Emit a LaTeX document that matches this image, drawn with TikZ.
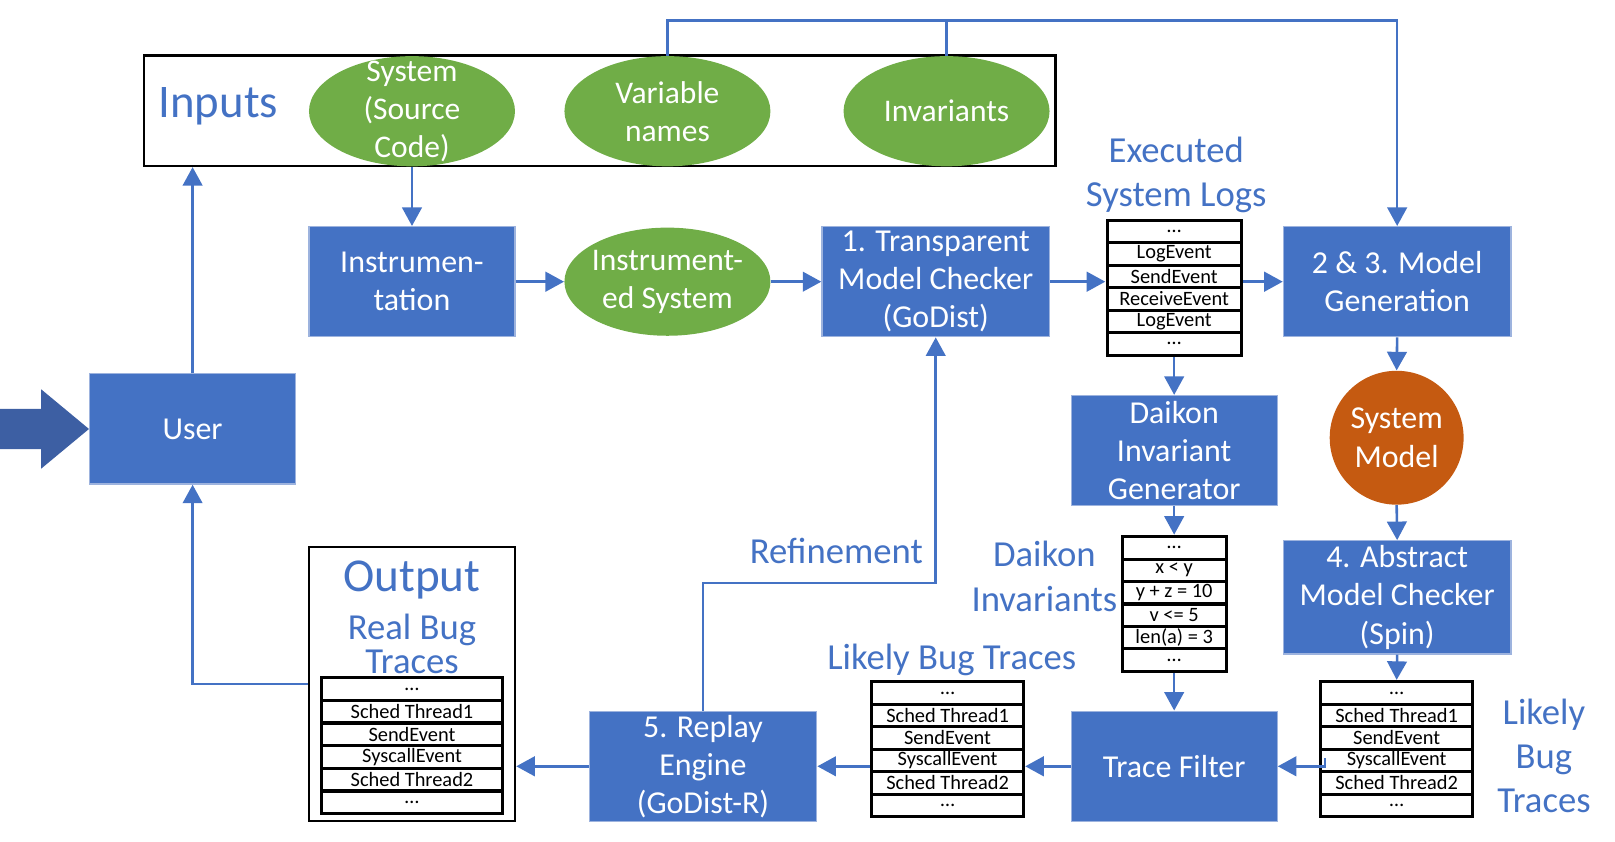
\documentclass[tikz,border=0pt]{standalone}
\usepackage{fontspec}
\setmainfont{Carlito}
\usetikzlibrary{shapes.geometric,arrows.meta,fit,calc}
\definecolor{mblue}{HTML}{4472C4}
\definecolor{mgreen}{HTML}{70AD47}
\definecolor{morange}{HTML}{C55A11}
\definecolor{darrow}{HTML}{3D5FA3}
\definecolor{pale}{HTML}{9DB3DE}
\tikzset{
  sz/.style 2 args={minimum width={#1*0.5pt}, minimum height={#2*0.5pt}},
  box/.style={rectangle, fill=mblue, draw=pale, line width=0.6pt, text=white, align=center,
    inner sep=0pt, font=\fontsize{15.5}{18.5}\selectfont},
  oval/.style={ellipse, fill=mgreen, draw=none, inner sep=0pt},
  ovaltext/.style={text=white, align=center, inner sep=0pt,
    font=\fontsize{15.3}{18.5}\selectfont},
  frame/.style={rectangle, draw=black, line width=1.25pt, inner sep=0pt},
  lbl/.style={text=mblue, align=center, inner sep=0pt, font=\fontsize{17.8}{21.5}\selectfont},
  cell/.style={rectangle, draw=black, fill=white, line width=1.5pt, inner sep=0pt,
    font=\fontsize{9.9}{11}\selectfont},
  ln/.style={draw=mblue, line width=1.25pt},
  arr/.style={ln, -{Triangle[length=9pt,width=9.5pt]}},
}
% name, center x, top y, width, row height, list
\newcommand\rowtable[6]{%
  \foreach \t [count=\i] in {#6} {
    \node[cell, minimum width={#4*0.5pt}, minimum height={#5*0.5pt}] (#1-\i)
      at (#2, {#3+(\i-0.5)*#5}) {\t};
  }
  \node[fit=(#1-1)(#1-6), inner sep=0pt] (#1) {};
}
\begin{document}
\begin{tikzpicture}[x=0.5pt,y=-0.5pt]
\useasboundingbox (0,0) rectangle (1568,817);

% Inputs
\node[frame, sz={885}{107}] (inputs) at (582.5,107.5) {};
\node[lbl, font=\fontsize{22.7}{26}\selectfont] (inlbl) at (212,103) {Inputs};
\node[oval, sz={200}{107}] (src) at (400,108) {};
\node[ovaltext] (srct) at (src.center) {System\\(Source\\Code)};
\node[oval, sz={200}{107}] (var) at (648,108) {};
\node[ovaltext] (vart) at (var.center) {Variable\\names};
\node[oval, sz={200}{107}] (inv) at (919,108) {};
\node[ovaltext] (invt) at (inv.center) {Invariants};

% row 2
\node[box, sz={200}{107}] (instr) at (400,273.5) {Instrumen-\\tation};
\node[oval, sz={200}{105}] (instd) at (648,273.5) {};
\node[ovaltext] (instdt) at (instd.center) {Instrument-\\ed System};
\node[box, sz={221}{107}] (tmc) at (908.5,273.5) {1. Transparent\\Model Checker\\(GoDist)};
\node[lbl] (execl) at (1142,170) {Executed\\System Logs};
\rowtable{log}{1140}{214}{130}{21.8}{…,LogEvent,SendEvent,ReceiveEvent,LogEvent,…}
\node[box, sz={221}{107}] (m23) at (1356.5,273.5) {2 \& 3. Model\\Generation};

% middle
\node[box, sz={200}{107}] (user) at (187,416.5) {User};
\node[box, sz={200}{107}] (dkg) at (1140,437.5) {Daikon\\Invariant\\Generator};
\node[circle, fill=morange, text=white, align=center, inner sep=0pt, minimum size=65pt,
  font=\fontsize{15.5}{18.5}\selectfont] (sm) at (1356,425) {System\\Model};
\node[lbl] (dil) at (1014,559.5) {Daikon\\Invariants};
\rowtable{dit}{1140}{521}{101}{21.8}{…,x < y,y + z = 10,v <= 5,len(a) = 3,…}
\node[box, sz={221}{110}] (abs) at (1356.5,580) {4. Abstract\\Model Checker\\(Spin)};
\node[lbl] (refl) at (812,535) {Refinement};

% bottom
\node[frame, sz={200}{266}] (output) at (400,664) {};
\node[lbl, font=\fontsize{22.9}{26}\selectfont] (outl) at (400,563) {Output};
\node[lbl, font=\fontsize{17.8}{16.5}\selectfont] (rbl) at (400,625) {Real Bug\\Traces};
\rowtable{otab}{400}{658}{175}{22}{…,Sched Thread1,SendEvent,SyscallEvent,Sched Thread2,…}
\node[box, sz={221}{107}] (replay) at (682.5,744) {5. Replay\\Engine\\(GoDist-R)};
\node[lbl] (lbtl) at (924,641) {Likely Bug Traces};
\rowtable{mid}{920}{662}{147}{21.8}{…,Sched Thread1,SendEvent,SyscallEvent,Sched Thread2,…}
\node[box, sz={200}{107}] (tf) at (1140,744) {Trace Filter};
\rowtable{rt}{1356}{662}{148}{21.8}{…,Sched Thread1,SendEvent,SyscallEvent,Sched Thread2,…}
\node[lbl] (rtl) at (1499,734) {Likely\\Bug\\Traces};

% entry arrow
\fill[darrow] (0,397) -- (40,397) -- (40,378) -- (user.west) -- (40,455) -- (40,436) -- (0,436) -- cycle;

% connectors
\coordinate (topy) at (0,20);
\draw[arr] (var.north) |- (topy -| m23.north) -- (m23.north);
\draw[ln] (inv.north) -- (inv.north |- topy);
\draw[arr] (src.south) -- (instr.north);
\draw[arr] (user.north) -- (user.north |- inputs.south);
\draw[arr] (output.west) -| (user.south);
\draw[arr] (instr.east) -- (instd.west);
\draw[arr] (instd.east) -- (tmc.west);
\draw[arr] (tmc.east) -- (tmc.east -| log.west);
\draw[arr] (log.east |- m23.west) -- (m23.west);
\draw[arr] (log.south) -- (dkg.north);
\draw[arr] (m23.south) -- (sm.north);
\draw[arr] (sm.south) -- (abs.north);
\draw[arr] (dkg.south) -- (dit.north);
\draw[arr] (dit.south) -- (tf.north);
\draw[arr] (abs.south) -- (rt.north);
\coordinate (rtstart) at (1286.5,736);
\draw[arr] (rtstart) |- (tf.east);
\draw[arr] (tf.west) -- (tf.west -| mid.east);
\draw[arr] (mid.west |- replay.east) -- (replay.east);
\draw[arr] (replay.west) -- (replay.west -| output.east);
\draw[arr] (replay.north) -- ++(0,-124) -| (tmc.south);
\end{tikzpicture}
\end{document}
